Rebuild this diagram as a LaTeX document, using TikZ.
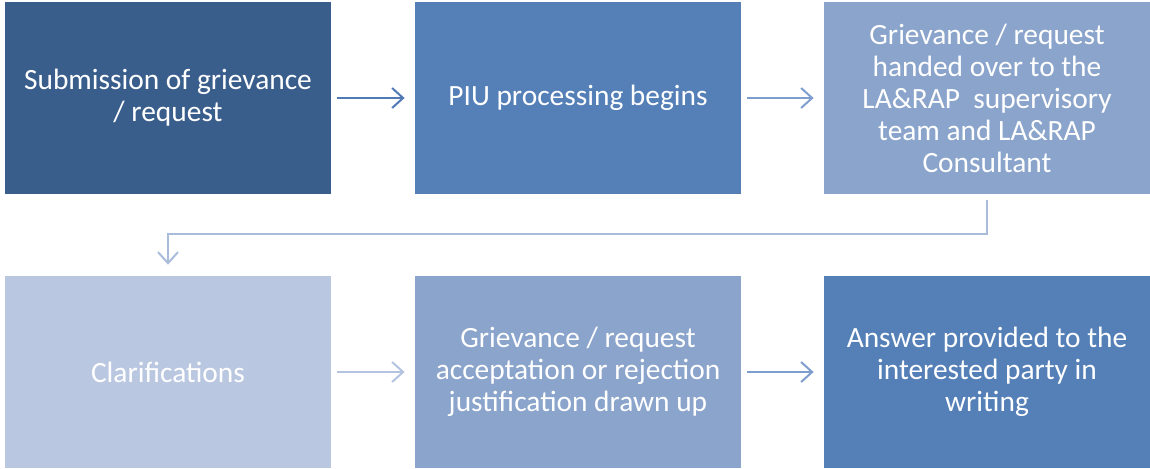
\documentclass[tikz,border=0pt]{standalone}
\usepackage{fontspec}
\setmainfont{Carlito}
\usetikzlibrary{arrows.meta}

\definecolor{boxA}{RGB}{58,94,140}
\definecolor{boxB}{RGB}{84,127,183}
\definecolor{boxC}{RGB}{138,164,203}
\definecolor{boxD}{RGB}{186,199,224}
\definecolor{lnA}{RGB}{79,122,181}
\definecolor{lnB}{RGB}{126,159,206}
\definecolor{lnC}{RGB}{169,188,218}
\definecolor{lnD}{RGB}{180,196,224}

\begin{document}
\begin{tikzpicture}[x=0.5pt, y=-0.5pt,
  stage/.style={fill=#1, text=white, minimum width=163pt, minimum height=96pt,
    inner sep=0pt, align=center, font=\fontsize{14.7}{16}\selectfont},
  link/.style={draw=#1, line width=1pt, -{Straight Barb[length=5.5pt, width=10pt, line width=1pt]}}]
\useasboundingbox (0,0) rectangle (1150,468);
\node[stage=boxA] (a) at (168,98) {Submission of grievance\\/ request};
\node[stage=boxB] (b) at (578,98) {PIU processing begins};
\node[stage=boxC] (c) at (987,98) {Grievance / request\\handed over to the\\LA\&RAP\ \ supervisory\\team and LA\&RAP\\Consultant};
\node[stage=boxD] (d) at (168,372) {Clarifications};
\node[stage=boxC] (e) at (578,372) {Grievance / request\\acceptation or rejection\\justification drawn up};
\node[stage=boxB] (f) at (987,372) {Answer provided to the\\interested party in\\writing};
\coordinate (turn) at (0,234);
\draw[link=lnA, shorten <=3pt, shorten >=5pt] (a) -- (b);
\draw[link=lnB, shorten <=3pt, shorten >=5pt] (b) -- (c);
\draw[link=lnC, shorten <=3pt, shorten >=5.5pt] (c.south) -- (c.south |- turn) -| (d.north);
\draw[link=lnD, shorten <=3pt, shorten >=5pt] (d) -- (e);
\draw[link=lnB, shorten <=3pt, shorten >=5pt] (e) -- (f);
\end{tikzpicture}
\end{document}
